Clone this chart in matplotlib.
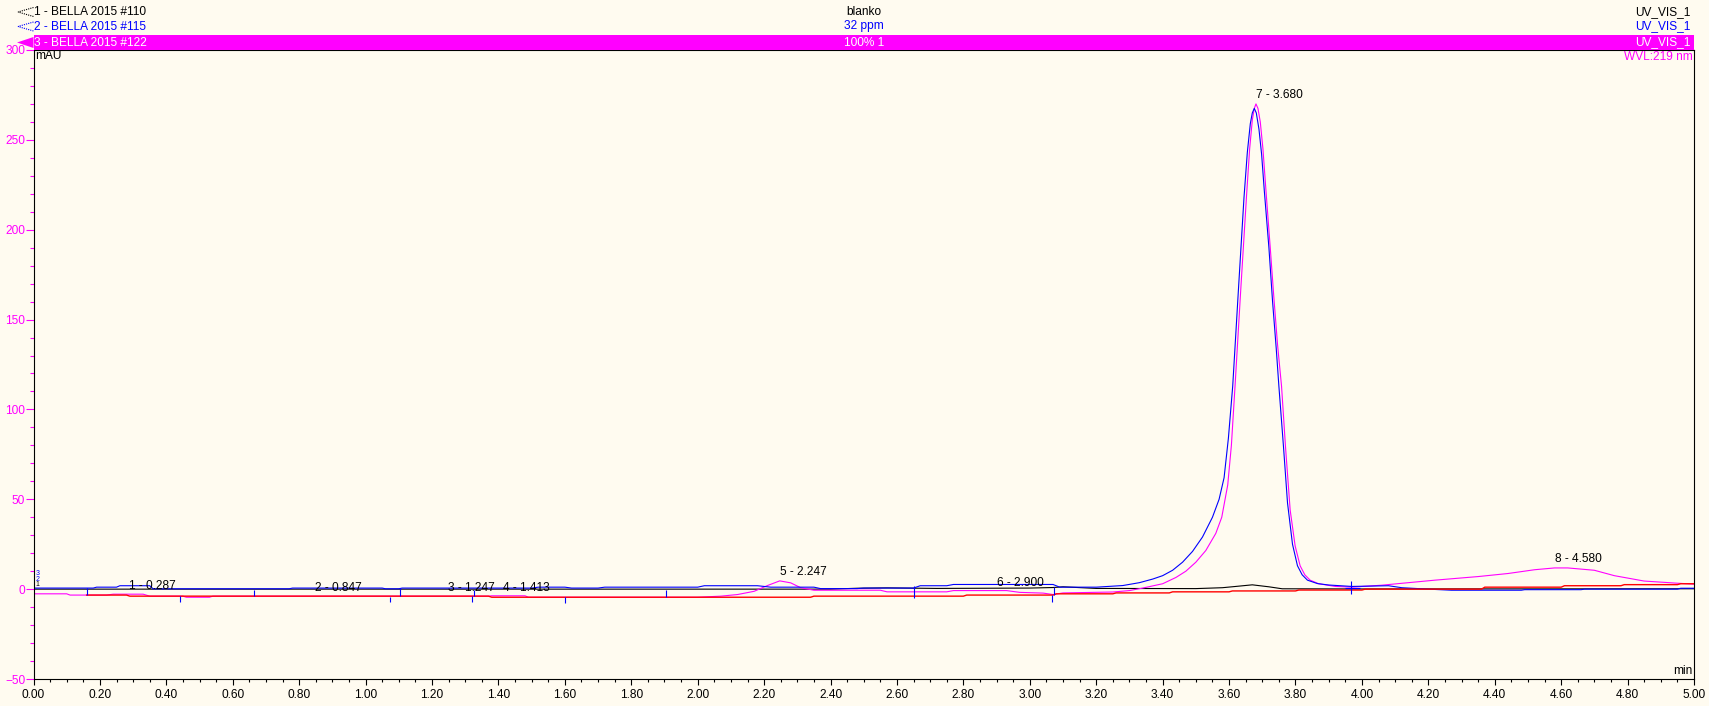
import numpy as np
import matplotlib.pyplot as plt
from matplotlib.patches import Rectangle, Polygon
from matplotlib.ticker import MultipleLocator

plt.rcParams['font.family'] = ['Liberation Sans', 'DejaVu Sans']

# trace 1 - blanko (black)
t_blank = [0.00, 2.40, 2.48, 2.57, 2.72, 3.00, 3.07, 3.10, 3.20, 3.50, 3.58, 3.62, 3.67, 3.72, 3.76, 4.00, 5.00]
v_blank = [0.0, 0.0, 0.5, 0.7, 0.4, 0.6, 0.9, 1.3, 0.4, 0.3, 0.8, 1.5, 2.4, 1.3, 0.2, 0.1, 0.2]

# trace 2 - 32 ppm (blue)
t_32ppm = [0.00, 0.18, 0.19, 0.25, 0.26, 0.35, 0.36, 0.77, 0.78, 1.05, 1.06, 1.10, 1.11, 1.50, 1.52,
           1.60, 1.62, 1.70, 1.72, 2.00, 2.02, 2.18, 2.22, 2.35, 2.37, 2.48, 2.50, 2.65, 2.67, 2.75,
           2.77, 3.07, 3.09, 3.20, 3.28, 3.33, 3.37, 3.40, 3.43, 3.46, 3.49, 3.52, 3.55, 3.57, 3.585,
           3.598, 3.611, 3.628, 3.645, 3.655, 3.664, 3.670, 3.676, 3.682, 3.690, 3.698, 3.706, 3.720,
           3.731, 3.742, 3.750, 3.764, 3.776, 3.791, 3.806, 3.820, 3.836, 3.866, 3.90, 3.97, 4.08,
           4.12, 4.20, 4.27, 4.48, 4.49, 4.66, 4.67, 4.95, 4.96, 5.00]
v_32ppm = [0.6, 0.6, 1.1, 1.1, 1.9, 1.9, 0.2, 0.2, 0.6, 0.6, 0.2, 0.2, 0.6, 0.6, 1.1,
           1.1, 0.6, 0.6, 1.1, 1.1, 1.9, 1.9, 1.1, 1.1, 0.3, 0.3, 0.6, 0.6, 1.9, 1.9,
           2.6, 2.6, 1.1, 1.1, 2.0, 3.6, 5.6, 7.5, 10.5, 15, 21, 29, 40, 50, 62,
           84, 113, 166, 218, 243, 259, 265, 267.5, 265, 256, 242, 222, 190,
           160, 134, 113, 79, 48, 25, 13, 8.0, 5.0, 3.1, 2.3, 1.5, 1.9,
           0.8, 0.0, -0.6, -0.6, -0.3, -0.3, 0.0, 0.0, 0.5, 0.5]

# trace 3 - 100% 1 (magenta)
t_std = [0.00, 0.10, 0.11, 0.22, 0.24, 0.33, 0.35, 0.45, 0.46, 0.53, 0.54, 1.37, 1.38, 1.48, 1.49,
         2.00, 2.07, 2.12, 2.17, 2.21, 2.247, 2.28, 2.31, 2.35, 2.55, 2.57, 2.75, 2.77, 2.93, 2.97,
         3.04, 3.07, 3.10, 3.25, 3.30, 3.34, 3.40, 3.44, 3.47, 3.50, 3.53, 3.56, 3.578, 3.596,
         3.607, 3.618, 3.635, 3.653, 3.662, 3.670, 3.676, 3.681, 3.687, 3.694, 3.702, 3.711, 3.724,
         3.735, 3.746, 3.758, 3.770, 3.784, 3.799, 3.814, 3.828, 3.844, 3.87, 3.92, 3.97, 4.06,
         4.22, 4.35, 4.44, 4.52, 4.58, 4.62, 4.70, 4.76, 4.85, 4.95, 5.00]
v_std = [-2.6, -2.6, -3.3, -3.3, -2.8, -2.8, -3.9, -3.9, -4.5, -4.5, -3.9, -3.9, -3.7, -3.7, -4.5,
         -4.5, -3.9, -3.0, -1.2, 2.0, 4.6, 3.5, 0.8, -0.6, -0.6, -1.5, -1.5, -0.8, -0.8, -1.8,
         -2.2, -3.0, -2.1, -1.6, -0.8, 0.6, 3.0, 6.5, 10, 15, 21.5, 31, 40, 58,
         80, 113, 166, 220, 245, 261, 267.5, 270, 267.5, 260, 245, 222, 190,
         162, 136, 113, 79, 44, 24, 13, 8.0, 5.0, 3.0, 1.5, 1.1, 2.2,
         5.0, 7.0, 8.7, 10.8, 11.8, 11.8, 10.5, 7.5, 4.5, 3.3, 2.8]

# integration baseline of trace 3 (red)
t_base = [0.16, 0.28, 0.29, 1.37, 1.38, 2.34, 2.35, 2.80, 2.81, 3.07, 3.08, 3.25, 3.26, 3.42, 3.43,
          3.60, 3.61, 3.80, 3.81, 4.00, 4.01, 4.36, 4.37, 4.60, 4.61, 4.78, 4.79, 4.95, 4.96, 5.00]
v_base = [-3.3, -3.3, -3.9, -3.9, -4.5, -4.5, -3.9, -3.9, -3.3, -3.3, -2.6, -2.6, -2.1, -2.1, -1.5,
          -1.5, -1.0, -1.0, -0.5, -0.5, 0.0, 0.0, 1.1, 1.1, 1.9, 1.9, 2.5, 2.5, 3.0, 3.0]

# peak delimiters (blue ticks)
delim_t = [0.16, 0.44, 0.665, 1.072, 1.105, 1.319, 1.327, 1.60, 1.905, 2.652, 3.068, 3.074, 3.968]
delim_top = [0.5, -3.9, -0.7, -4.1, 0.6, -3.7, -0.4, -4.5, -0.7, 1.9, -3.1, 1.1, 4.3]
delim_bot = [-3.3, -7.4, -3.7, -7.4, -3.7, -7.4, -3.7, -7.8, -4.5, -5.2, -6.9, -3.1, -2.8]

# peak labels
peak_no = [1, 2, 3, 4, 5, 6, 7, 8]
peak_rt = [0.287, 0.847, 1.247, 1.413, 2.247, 2.900, 3.680, 4.580]
peak_h = [-3.1, -4.2, -4.2, -4.2, 4.6, -1.1, 270, 11.8]

rows = [('1 - BELLA 2015 #110', 'blanko', 'UV_VIS_1'),
        ('2 - BELLA 2015 #115', '32 ppm', 'UV_VIS_1'),
        ('3 - BELLA 2015 #122', '100% 1', 'UV_VIS_1')]

W, H = 1709, 706
bg = '#FFFBF0'
mag = '#FF00FF'
blue = '#0000FF'
fs = 8.6

fig = plt.figure(figsize=(W / 100, H / 100), dpi=100)
fig.patch.set_facecolor(bg)

x0, x1, ytop, ybot = 33.5, 1694, 50, 679
ax = fig.add_axes([x0 / W, (H - ybot) / H, (x1 - x0) / W, (ybot - ytop) / H])
ax.set_facecolor(bg)

ax.plot(t_blank, v_blank, color='black', lw=0.8)
ax.plot(t_std, v_std, color=mag, lw=0.8)
ax.plot(t_32ppm, v_32ppm, color=blue, lw=0.8)
ax.plot(t_base, v_base, color='red', lw=1.0)
ax.vlines(delim_t, delim_bot, delim_top, color=blue, lw=0.8)
ax.hlines(0.6, delim_t[-1] - 0.02, delim_t[-1] + 0.025, color=blue, lw=0.8)

# trace numbers stacked at the start of the traces
for n, dy, c in [('3', 8.5, blue), ('2', 4.5, blue), ('1', 0.5, 'black')]:
    ax.annotate(n, (0, 0), xytext=(1.5, dy), textcoords='offset points', ha='left', va='bottom',
                fontsize=5, color=c)

for n, rt, h in zip(peak_no, peak_rt, peak_h):
    ax.annotate(f'{n} - {rt:.3f}', (rt, h), xytext=(0, 6.2), textcoords='offset points',
                ha='left', va='center', fontsize=fs, color='black')

ax.set_xlim(0, 5)
ax.set_ylim(-50, 300)
xt = np.arange(0, 5.001, 0.2)
ax.set_xticks(xt)
ax.set_xticklabels([f'{v:.2f}' for v in xt])
ax.xaxis.set_minor_locator(MultipleLocator(0.05))
ax.set_yticks(np.arange(-50, 301, 50))
ax.yaxis.set_minor_locator(MultipleLocator(10))
ax.tick_params(axis='x', which='major', length=4, width=0.8, pad=3, labelsize=fs, colors='black')
ax.tick_params(axis='x', which='minor', length=2.3, width=0.8)
ax.tick_params(axis='y', which='major', length=5.5, width=0.8, pad=0.5, labelsize=fs,
               colors=mag)
ax.tick_params(axis='y', which='minor', length=3, width=0.8, colors=mag)
for s in ax.spines.values():
    s.set_color('black')
    s.set_linewidth(0.8)

ax.annotate('mAU', (0, 1), xycoords='axes fraction', xytext=(1, -4.5), textcoords='offset points',
            ha='left', va='center', fontsize=fs)
ax.annotate('WVL:219 nm', (1, 1), xycoords='axes fraction', xytext=(-1, -5),
            textcoords='offset points', ha='right', va='center', fontsize=fs, color=mag)
ax.annotate('min', (1, 0), xycoords='axes fraction', xytext=(-1, 6), textcoords='offset points',
            ha='right', va='center', fontsize=fs)

# header with trace names
hx = fig.add_axes([0, (H - ytop) / H, 1, ytop / H])
hx.set_xlim(0, W)
hx.set_ylim(ytop, 0)
hx.axis('off')
hx.add_patch(Rectangle((x0, 35), x1 - x0, 15, facecolor=mag, edgecolor='none'))
hx.add_patch(Polygon([(x0, 37), (17, 42.5), (x0, 48)], closed=True, facecolor=mag, edgecolor='none'))
for yc, col in [(12, 'black'), (26.5, blue)]:
    hx.add_patch(Polygon([(x0, yc - 4.5), (18, yc), (x0, yc + 4.5)], closed=False, fill=False,
                         edgecolor=col, lw=0.8, ls=(0, (1, 1))))
row_y = [12, 26.5, 42.5]
row_col = ['black', blue, 'white']
for (left, mid, right), yc, col in zip(rows, row_y, row_col):
    hx.text(34, yc, left, ha='left', va='center', fontsize=fs, color=col)
    hx.text((x0 + x1) / 2, yc, mid, ha='center', va='center', fontsize=fs, color=col)
    hx.text(1690, yc, right, ha='right', va='center', fontsize=fs, color=col)

fig.savefig('out.png', dpi=100, facecolor=bg)
